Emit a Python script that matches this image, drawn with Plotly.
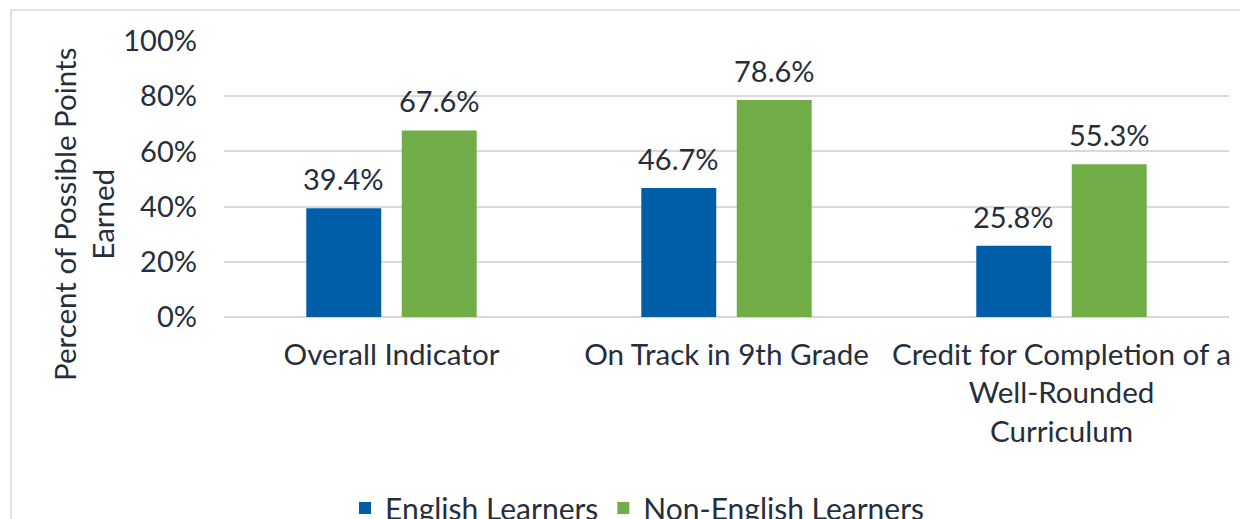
import plotly.graph_objects as go

categories = ["Overall Indicator", "On Track in 9th Grade",
              "Credit for Completion of a<br>Well-Rounded<br>Curriculum"]
english_learners = [39.4, 46.7, 25.8]
non_english_learners = [67.6, 78.6, 55.3]
series_names = ["English Learners", "Non-English Learners"]
y_ticks = [0, 20, 40, 60, 80, 100]
y_tick_labels = ["0%", "20%", "40%", "60%", "80%", "100%"]

FONT = "Lato, 'Open Sans', sans-serif"
TXT = "#262e3b"
FS = 29
BARGAP, GROUPGAP = 0.43, 0.215
W, H = 1248, 519
OFF = 8  # page body margin
L, T = 224 - OFF, 41 - OFF
pw, ph = 1005, 276
R = W - L - pw
B = H - T - ph

def px_x(sx):
    return (sx - OFF - L) / pw

def px_y(sy):
    return (T + ph - (sy - OFF)) / ph

fig = go.Figure()
series = [(series_names[0], english_learners, "#005EA8"),
          (series_names[1], non_english_learners, "#70AD47")]
for name, vals, color in series:
    fig.add_trace(go.Bar(
        x=categories, y=vals, name=name, marker_color=color,
        marker_line_width=0, cliponaxis=False,
    ))

# value labels above each bar
cat_w = pw / len(categories)
slot = cat_w * (1 - BARGAP) / len(series)
for si, (name, vals, color) in enumerate(series):
    shift = (si - (len(series) - 1) / 2) * slot
    for c, v in zip(categories, vals):
        fig.add_annotation(
            x=c, y=v, xref="x", yref="y", text=f"{v:.1f}%",
            showarrow=False, xanchor="center", yanchor="bottom",
            xshift=shift, yshift=10,
            font=dict(size=FS, color=TXT, family=FONT),
        )

fig.update_layout(
    width=W, height=H,
    margin=dict(l=L, r=R, t=T, b=B, autoexpand=False),
    paper_bgcolor="white", plot_bgcolor="white",
    font=dict(family=FONT, color=TXT, size=FS),
    barmode="group", bargap=BARGAP, bargroupgap=GROUPGAP,
    showlegend=True,
    legend=dict(orientation="h", x=px_x(637), xanchor="center",
                y=px_y(508), yanchor="middle",
                font=dict(size=30, color=TXT, family=FONT),
                itemwidth=30, traceorder="normal"),
    xaxis=dict(showgrid=False, showline=False, ticks="", automargin=False,
               tickfont=dict(size=29.6, color=TXT), ticklabelstandoff=17),
    yaxis=dict(range=[0, 100], tickvals=y_ticks, ticktext=y_tick_labels,
               showgrid=True, gridcolor="#d9d9d9", gridwidth=1.5,
               zeroline=True, zerolinecolor="#d9d9d9", zerolinewidth=1.5,
               showline=False, ticks="", automargin=False,
               tickfont=dict(size=FS, color=TXT), ticklabelstandoff=26),
)

fig.add_annotation(
    text="Percent of Possible Points<br>Earned", textangle=-90,
    xref="paper", yref="paper", x=px_x(83), y=px_y(215),
    xanchor="center", yanchor="middle",
    showarrow=False, font=dict(size=29.5, color=TXT, family=FONT),
)

fig.add_shape(type="rect", xref="paper", yref="paper",
              x0=px_x(11), y0=px_y(570), x1=px_x(1300), y1=px_y(10),
              line=dict(color="#d9d9d9", width=1.5), layer="below")

fig.write_html("out.html")
